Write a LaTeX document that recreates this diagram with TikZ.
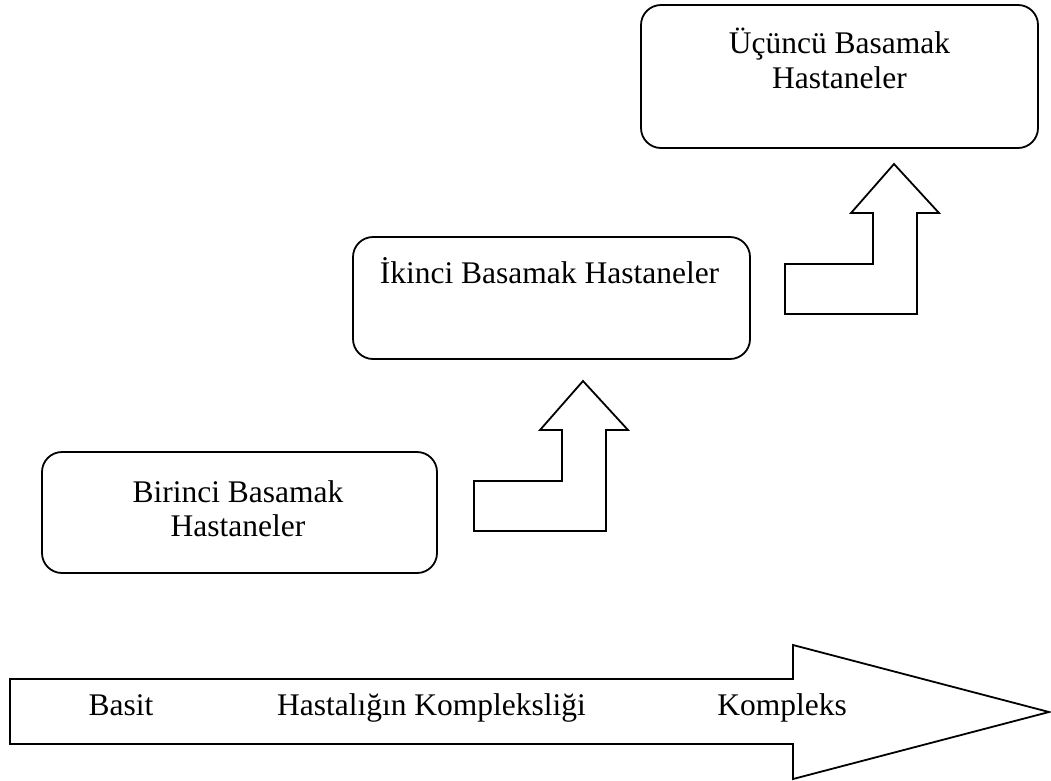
\documentclass[tikz,border=0pt]{standalone}
\usepackage{fontspec}
\setmainfont{Liberation Serif}
\begin{document}
\begin{tikzpicture}[x=1pt, y=-1pt, line join=miter,
  levelbox/.style={draw, line width=1.8pt, rounded corners=20pt, inner sep=0pt},
  caption/.style={font=\fontsize{31.5}{36}\selectfont, inner sep=0pt, anchor=base},
  stepup/.pic={
    \draw[line width=1.8pt, fill=white]
      (0,0) -- (45,49) -- (23,49) -- (23,150) -- (-109,150) -- (-109,100)
      -- (-21,100) -- (-21,49) -- (-43,49) -- cycle;
  }]
\useasboundingbox (0,0) rectangle (1051,780);

% hospital levels
\node[levelbox, minimum width=397pt, minimum height=143pt] (third) at (839.5,76.5) {};
\node[levelbox, minimum width=397pt, minimum height=122pt] (second) at (551.5,298) {};
\node[levelbox, minimum width=395pt, minimum height=121pt] (first) at (239.5,512.5) {};

\node[caption] (thirdA) at (839.5,53) {Üçüncü Basamak};
\node[caption] (thirdB) at (839.5,88) {Hastaneler};
\node[caption] (secondA) at (549.5,283) {İkinci Basamak Hastaneler};
\node[caption] (firstA) at (238,502) {Birinci Basamak};
\node[caption] (firstB) at (238,536) {Hastaneler};

% step arrows between levels
\coordinate (tipA) at (583,381);
\coordinate (tipB) at (894,164);
\pic at (tipA) {stepup};
\pic at (tipB) {stepup};

% complexity axis
\draw[line width=1.8pt] (10,679) -- (793,679) -- (793,645) -- (1049,712)
  -- (793,779) -- (793,744) -- (10,744) -- cycle;
\node[caption] (simple) at (121,715) {Basit};
\node[caption] (axis) at (431.5,715) {Hastalığın Kompleksliği};
\node[caption] (complex) at (782,715) {Kompleks};
\end{tikzpicture}
\end{document}
